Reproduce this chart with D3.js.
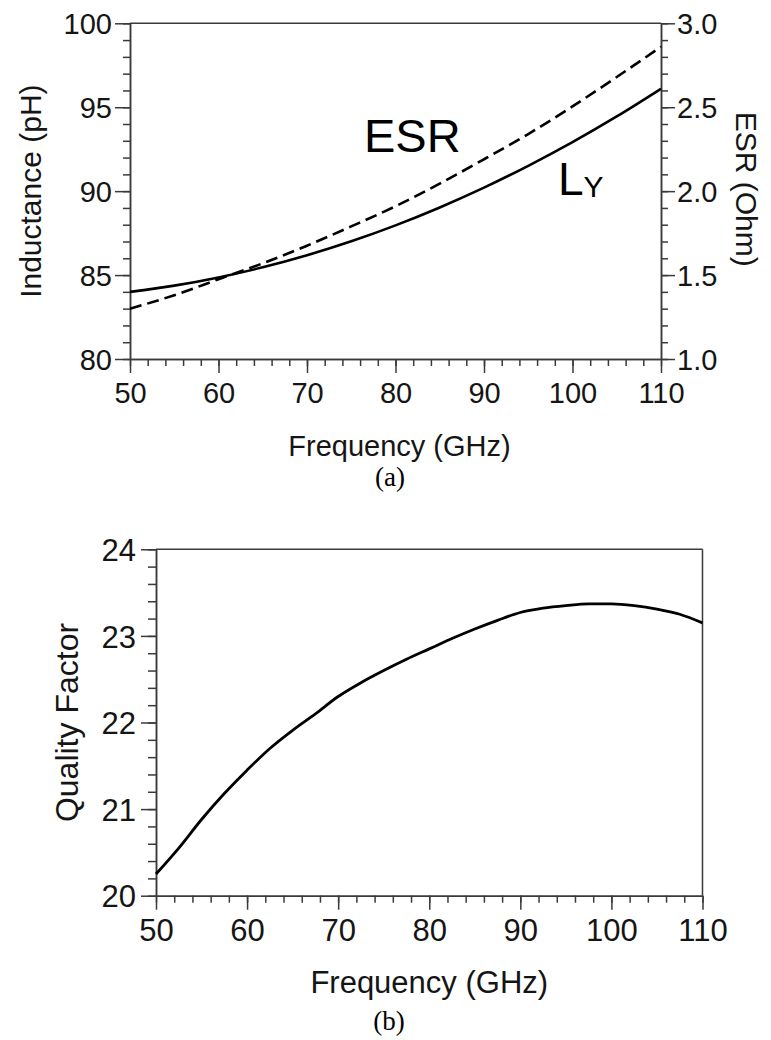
<!DOCTYPE html>
<html>
<head>
<meta charset="utf-8">
<script src="https://cdn.jsdelivr.net/npm/d3@7"></script>
<style>
  html, body { margin: 0; padding: 0; background: #fff; }
  svg { display: block; }
  .axis path, .axis line { stroke: #3a3a3a; stroke-width: 1.5; }
  .axis text { fill: #151515; font-family: "Liberation Sans", Arial, sans-serif; }
</style>
</head>
<body>
<svg id="chart" width="771" height="1040"></svg>
<script>
// ---------- data ----------
const freqA = [50, 55, 60, 65, 70, 75, 80, 85, 90, 95, 100, 105, 110];            // GHz
const inductance = [84.00, 84.37, 84.86, 85.46, 86.18, 87.01, 87.96, 89.03, 90.21, 91.51, 92.92, 94.45, 96.10]; // pH
const esr = [1.30, 1.38, 1.475, 1.57, 1.675, 1.79, 1.91, 2.045, 2.19, 2.34, 2.505, 2.68, 2.86];             // Ohm

const freqB = [50, 52.5, 55, 57.5, 60, 62.5, 65, 67.5, 70, 72.5, 75, 77.5, 80, 82.5, 85, 87.5, 90, 92.5, 95, 97.5, 100, 102.5, 105, 107.5, 110];
const qFactor = [20.25, 20.55, 20.88, 21.18, 21.45, 21.70, 21.91, 22.10, 22.30, 22.46, 22.60, 22.73, 22.85, 22.97, 23.08, 23.18, 23.27, 23.32, 23.35, 23.37, 23.37, 23.35, 23.31, 23.25, 23.15];

const xTicks = [50, 60, 70, 80, 90, 100, 110];
const inductanceTicks = [80, 85, 90, 95, 100];
const esrTicks = [1.0, 1.5, 2.0, 2.5, 3.0];
const qTicks = [20, 21, 22, 23, 24];

const xTitle = "Frequency (GHz)";
const yTitleA = "Inductance (pH)";
const y2TitleA = "ESR (Ohm)";
const yTitleB = "Quality Factor";

// ---------- helpers ----------
const svg = d3.select("#chart");
const SANS = '"Liberation Sans", Arial, sans-serif';
const SERIF = '"Liberation Serif", "Times New Roman", serif';

function minorAxis(axisFn, scale, values, size) {
  return axisFn(scale).tickValues(values).tickSize(size).tickFormat("").tickSizeOuter(0);
}

// ================= Chart (a) =================
const A = { left: 130, right: 661, top: 23.3, bottom: 359 };
const xA = d3.scaleLinear().domain([50, 110]).range([A.left, A.right]);
const yL = d3.scaleLinear().domain([80, 100]).range([A.bottom, A.top]);
const yR = d3.scaleLinear().domain([1.0, 3.0]).range([A.bottom, A.top]);

const gA = svg.append("g");

// top border
gA.append("line").attr("x1", A.left).attr("x2", A.right).attr("y1", A.top).attr("y2", A.top)
  .attr("stroke", "#3a3a3a").attr("stroke-width", 1.5);

// minor ticks
gA.append("g").attr("class", "axis").attr("transform", `translate(0,${A.bottom})`)
  .call(minorAxis(d3.axisBottom, xA, d3.range(50, 110.1, 2), 7));
gA.append("g").attr("class", "axis").attr("transform", `translate(${A.left},0)`)
  .call(minorAxis(d3.axisLeft, yL, d3.range(80, 100.1, 1), 7));
gA.append("g").attr("class", "axis").attr("transform", `translate(${A.right},0)`)
  .call(minorAxis(d3.axisRight, yR, d3.range(1.0, 3.001, 0.1), 7));

// major axes
const axBA = gA.append("g").attr("class", "axis").attr("transform", `translate(0,${A.bottom})`)
  .call(d3.axisBottom(xA).tickValues(xTicks).tickSize(14).tickSizeOuter(0).tickFormat(d3.format("d")));
axBA.selectAll("text").attr("y", 44).attr("dy", 0).style("font-size", "29px");

const axLA = gA.append("g").attr("class", "axis").attr("transform", `translate(${A.left},0)`)
  .call(d3.axisLeft(yL).tickValues(inductanceTicks).tickSize(15).tickPadding(3).tickSizeOuter(0)
        .tickFormat(d3.format("d")));
axLA.selectAll("text").style("font-size", "29px").attr("dy", "0.36em");

const axRA = gA.append("g").attr("class", "axis").attr("transform", `translate(${A.right},0)`)
  .call(d3.axisRight(yR).tickValues(esrTicks).tickSize(14).tickPadding(2).tickSizeOuter(0)
        .tickFormat(d3.format(".1f")));
axRA.selectAll("text").style("font-size", "29px").attr("dy", "0.36em");

// curves
const lineL = d3.line().x((d, i) => xA(freqA[i])).y(d => yL(d)).curve(d3.curveMonotoneX);
const lineR = d3.line().x((d, i) => xA(freqA[i])).y(d => yR(d)).curve(d3.curveMonotoneX);

gA.append("path").datum(inductance).attr("d", lineL)
  .attr("fill", "none").attr("stroke", "#000").attr("stroke-width", 2.6);
gA.append("path").datum(esr).attr("d", lineR)
  .attr("fill", "none").attr("stroke", "#000").attr("stroke-width", 2.6)
  .attr("stroke-dasharray", "12,6");

// annotations
gA.append("text").attr("x", 364).attr("y", 152).text("ESR")
  .style("font-family", SANS).style("font-size", "47px").attr("fill", "#000");
const ly = gA.append("text").attr("x", 558).attr("y", 195)
  .style("font-family", SANS).attr("fill", "#000");
ly.append("tspan").text("L").style("font-size", "46px");
ly.append("tspan").text("Y").style("font-size", "30px").attr("dy", 2);

// titles
gA.append("text").attr("x", (A.left + A.right) / 2 + 4).attr("y", 456)
  .attr("text-anchor", "middle").text(xTitle)
  .style("font-family", SANS).style("font-size", "29px").attr("fill", "#151515");
gA.append("text").attr("transform", `translate(41,${(A.top + A.bottom) / 2}) rotate(-90)`)
  .attr("text-anchor", "middle").text(yTitleA)
  .style("font-family", SANS).style("font-size", "30px").attr("fill", "#151515");
gA.append("text").attr("transform", `translate(736,${(A.top + A.bottom) / 2 - 2}) rotate(90)`)
  .attr("text-anchor", "middle").text(y2TitleA)
  .style("font-family", SANS).style("font-size", "30px").attr("fill", "#151515");
gA.append("text").attr("x", 390).attr("y", 486).attr("text-anchor", "middle").text("(a)")
  .style("font-family", SERIF).style("font-size", "27px").attr("fill", "#000");

// ================= Chart (b) =================
const B = { left: 156, right: 702.5, top: 549.3, bottom: 895.7 };
const xB = d3.scaleLinear().domain([50, 110]).range([B.left, B.right]);
const yB = d3.scaleLinear().domain([20, 24]).range([B.bottom, B.top]);

const gB = svg.append("g");

gB.append("line").attr("x1", B.left).attr("x2", B.right).attr("y1", B.top).attr("y2", B.top)
  .attr("stroke", "#3a3a3a").attr("stroke-width", 1.5);
gB.append("line").attr("x1", B.right).attr("x2", B.right).attr("y1", B.top).attr("y2", B.bottom)
  .attr("stroke", "#3a3a3a").attr("stroke-width", 1.5);

gB.append("g").attr("class", "axis").attr("transform", `translate(0,${B.bottom})`)
  .call(minorAxis(d3.axisBottom, xB, d3.range(50, 110.1, 2), 7));
gB.append("g").attr("class", "axis").attr("transform", `translate(${B.left},0)`)
  .call(minorAxis(d3.axisLeft, yB, d3.range(20, 24.01, 0.2), 8));

const axBB = gB.append("g").attr("class", "axis").attr("transform", `translate(0,${B.bottom})`)
  .call(d3.axisBottom(xB).tickValues(xTicks).tickSize(14).tickSizeOuter(0).tickFormat(d3.format("d")));
axBB.selectAll("text").attr("y", 45).attr("dy", 0).style("font-size", "31px");

const axLB = gB.append("g").attr("class", "axis").attr("transform", `translate(${B.left},0)`)
  .call(d3.axisLeft(yB).tickValues(qTicks).tickSize(15).tickPadding(5).tickSizeOuter(0)
        .tickFormat(d3.format("d")));
axLB.selectAll("text").style("font-size", "31px").attr("dy", "0.36em");

const lineQ = d3.line().x((d, i) => xB(freqB[i])).y(d => yB(d)).curve(d3.curveMonotoneX);
gB.append("path").datum(qFactor).attr("d", lineQ)
  .attr("fill", "none").attr("stroke", "#000").attr("stroke-width", 2.8);

gB.append("text").attr("x", (B.left + B.right) / 2).attr("y", 993)
  .attr("text-anchor", "middle").text(xTitle)
  .style("font-family", SANS).style("font-size", "31px").attr("fill", "#151515");
gB.append("text").attr("transform", `translate(78,${(B.top + B.bottom) / 2}) rotate(-90)`)
  .attr("text-anchor", "middle").text(yTitleB)
  .style("font-family", SANS).style("font-size", "32px").attr("fill", "#151515");
gB.append("text").attr("x", 389).attr("y", 1030).attr("text-anchor", "middle").text("(b)")
  .style("font-family", SERIF).style("font-size", "27px").attr("fill", "#000");
</script>
</body>
</html>
